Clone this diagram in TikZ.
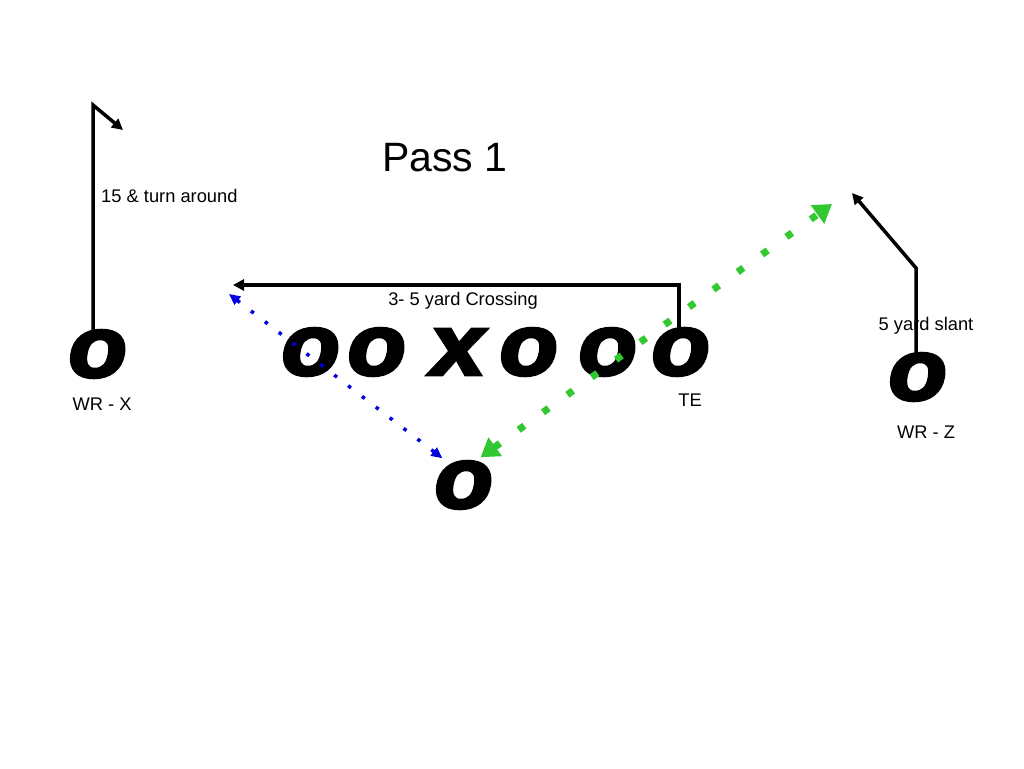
\documentclass[tikz,border=0pt]{standalone}
\usepackage{fontspec}
\setmainfont{Liberation Sans}
\newfontfamily\heavy{Liberation Sans Bold}[FakeBold=4, FakeSlant=0.16, FakeStretch=1.12]
\usetikzlibrary{arrows.meta}
\definecolor{passgreen}{RGB}{50,200,50}
\definecolor{passblue}{RGB}{0,0,225}
\tikzset{
  player/.style={font=\heavy\fontsize{86}{86}\selectfont, inner sep=0pt},
  lbl/.style={font=\fontsize{18.3}{21}\selectfont, inner sep=0pt},
  route/.style={line width=3.5pt, line join=miter, -{Triangle[length=11pt,width=11pt]}},
  greenpass/.style={passgreen, line width=7pt, dash pattern=on 7pt off 23pt,
    {Triangle[length=18pt,width=22pt]}-{Triangle[length=18pt,width=22pt]}},
  bluepass/.style={passblue, line width=3.5pt, dash pattern=on 3.5pt off 14pt,
    {Triangle[length=11pt,width=10pt]}-{Triangle[length=11pt,width=10pt]}}
}
\begin{document}
\begin{tikzpicture}[x=1pt,y=-1pt]
\useasboundingbox[fill=white] (0,0) rectangle (1024,768);
% title
\node[font=\fontsize{41}{45}\selectfont, inner sep=0pt] (title) at (445,158) {Pass 1};
% players
\node[player] (wrx) at (94,354) {o};
\node[player] (ol1) at (307,352) {o};
\node[player] (ol2) at (373,352) {o};
\node[player] (ctr) at (454,352) {x};
\node[player] (or1) at (525,352) {o};
\node[player] (or2) at (604,352) {o};
\node[player] (te)  at (677,352) {o};
\node[player] (qb)  at (460,485) {o};
\node[player] (wrz) at (914,377) {o};
% labels
\node[lbl] (lwrx) at (102,404) {WR - X};
\node[lbl] (lte) at (690,400) {TE};
\node[lbl] (lwrz) at (926,432) {WR - Z};
\node[lbl, anchor=west] (lturn) at (101,196) {15 \& turn around};
\node[lbl] (lcross) at (463,301) {3- 5 yard Crossing};
\node[lbl] (lslant) at (926,326) {5 yard slant};
% routes
\coordinate (x1) at (93,105);
\coordinate (x2) at (123,130);
\draw[route] (wrx.north -| x1) -- (x1) -- (x2);
\coordinate (c1) at (679,285);
\coordinate (c2) at (233,285);
\draw[route] (te.north -| c1) -- (c1) -- (c2);
\coordinate (s1) at (916,268);
\coordinate (s2) at (852,193);
\draw[route] (wrz.north -| s1) -- (s1) -- (s2);
% passes
\coordinate (g2) at (832,204);
\draw[greenpass] ([xshift=-9pt,yshift=4pt]qb.north east) -- (g2);
\coordinate (b1) at (229,294);
\draw[bluepass] (b1) -- ([xshift=12pt,yshift=3pt]qb.north west);
\end{tikzpicture}
\end{document}
